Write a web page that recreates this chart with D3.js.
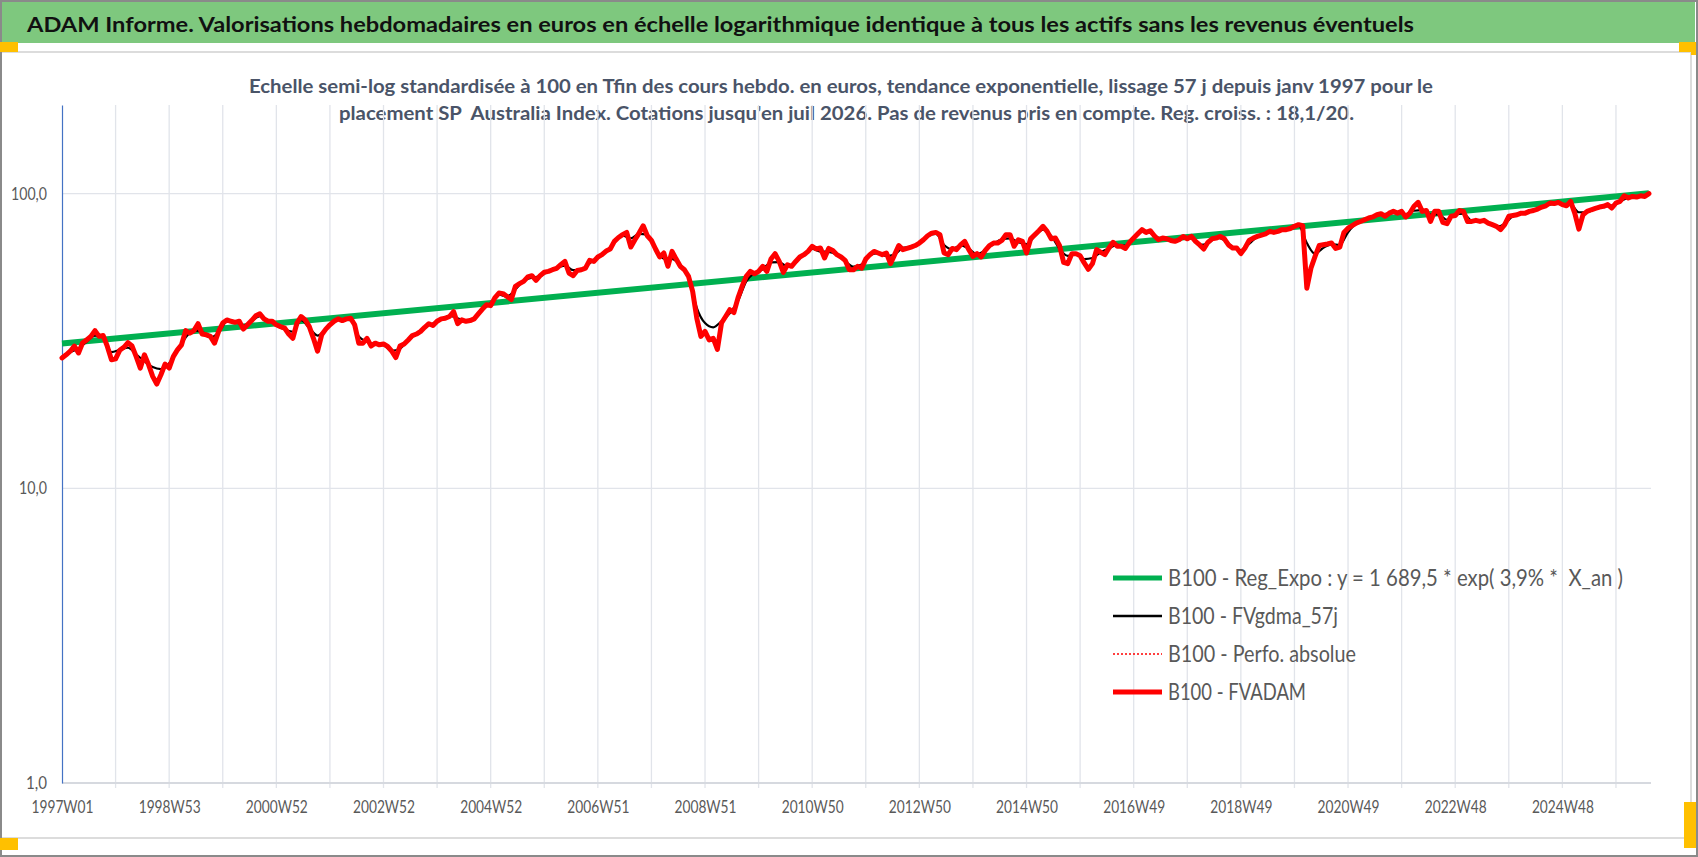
<!DOCTYPE html>
<html>
<head>
<meta charset="utf-8">
<script src="https://cdn.jsdelivr.net/npm/d3@7"></script>
<style>
  body { margin: 0; background: #fff; }
  svg { display: block; font-family: Lato, "Open Sans", sans-serif; }
</style>
</head>
<body>
<div id="chart"></div>
<script>
// ADAM chart - SP Australia Index, weekly values on a log scale (base 100 at the end)

const weekLabels = ["1997W01", "1998W53", "2000W52", "2002W52", "2004W52", "2006W51", "2008W51",
  "2010W50", "2012W50", "2014W50", "2016W49", "2018W49", "2020W49", "2022W48", "2024W48"];
const yTicks = [1, 10, 100];

// FVADAM, one value every 4 weeks from 1997W01
const fvadamStep = 4;
const fvadam = [
  27.7, 28.4, 29.2, 30.4, 28.8, 31.2, 31.9, 32.8, 34.3, 32.8,
  33.0, 30.3, 27.3, 27.5, 29.4, 30.1, 31.2, 30.4, 28.0, 25.6,
  28.4, 26.3, 24.0, 22.6, 24.3, 26.4, 25.6, 28.0, 29.5, 30.7,
  34.3, 33.6, 34.3, 36.2, 33.4, 33.2, 32.8, 31.1, 34.1, 36.4,
  37.3, 36.9, 36.6, 36.9, 34.7, 35.9, 37.1, 38.5, 39.1, 37.6,
  36.9, 36.9, 35.9, 35.4, 35.0, 33.4, 32.3, 36.4, 38.3, 37.3,
  35.4, 32.3, 29.2, 33.2, 34.7, 35.9, 36.9, 37.6, 37.1, 37.6,
  37.8, 35.9, 31.1, 31.1, 32.3, 30.4, 31.1, 30.7, 30.9, 30.3,
  29.2, 27.8, 30.4, 30.9, 31.9, 33.0, 33.4, 34.1, 35.2, 36.2,
  35.7, 36.9, 37.6, 37.8, 38.3, 39.8,
  36.2, 37.3, 36.9, 37.1, 37.6, 39.1, 40.6, 42.0, 41.7, 44.3,
  46.0, 45.8, 44.8, 43.7, 48.5, 49.5, 50.4, 52.2, 52.7, 50.8,
  52.7, 54.1, 54.5, 55.2, 55.8, 57.4, 58.9, 53.8, 52.7, 54.9,
  55.2, 55.9, 59.4, 58.9, 61.0, 62.1, 63.9, 64.9, 68.9, 71.0,
  72.6, 73.9, 65.9, 69.8, 73.5, 77.8, 72.0, 69.4, 64.9, 61.0,
  62.9, 56.7, 63.7, 60.0, 56.7, 55.2, 52.4, 46.6, 37.8, 32.8,
  34.1, 31.9, 32.3, 29.6, 36.4, 38.3, 40.4, 39.5, 44.3, 48.5,
  52.4, 54.5, 53.5, 54.5, 56.7, 54.5, 60.0, 62.6, 58.9, 54.1,
  57.4, 56.7, 58.9, 61.0, 62.1, 63.7, 66.3, 64.9, 65.4, 60.5,
  65.2, 64.2, 62.1, 61.0, 59.4, 55.2,
  55.2, 56.7, 55.9, 60.0, 62.1, 63.7, 62.9, 62.1, 62.9, 57.9,
  62.1, 66.7, 64.6, 65.2, 65.9, 66.7, 68.0, 69.8, 72.0, 73.5,
  73.9, 72.6, 62.9, 62.1, 65.2, 64.6, 67.0, 68.9, 64.6, 61.3,
  62.6, 61.0, 64.2, 66.7, 68.0, 68.0, 69.4, 72.6, 72.6, 66.3,
  69.8, 68.9, 62.9, 70.3, 72.6, 74.9, 77.5, 74.5, 70.3, 70.7,
  66.7, 58.5, 57.9, 62.6, 62.6, 61.6, 58.2, 55.4, 57.9, 64.6,
  63.2, 62.1, 65.4, 68.4, 66.3, 66.3, 65.2, 68.4, 70.7, 73.1,
  75.5, 73.9, 74.9, 72.0, 69.8, 70.7, 70.3, 69.4, 68.9, 69.8,
  71.6, 70.3, 71.6, 68.9, 67.0, 64.9, 68.4, 70.3, 70.7, 71.6,
  70.3, 67.0, 65.4, 65.4, 62.6, 65.4,
  69.4, 70.7, 71.6, 72.4, 73.1, 74.5, 73.9, 74.5, 75.5, 75.5,
  76.2, 77.5, 78.5, 77.9, 47.8, 55.9, 61.3, 66.7, 67.1, 67.5,
  68.0, 65.2, 65.9, 73.9, 76.4, 77.9, 79.5, 80.5, 81.6, 82.7,
  83.4, 84.8, 85.5, 83.8, 85.9, 87.1, 85.9, 87.1, 83.4, 85.9,
  90.6, 93.5, 87.1, 87.7, 80.5, 87.1, 87.1, 79.9, 79.1, 83.8,
  84.3, 87.7, 87.1, 80.5, 80.5, 81.2, 80.5, 81.2, 79.5, 78.5,
  77.5, 75.5, 78.5, 83.8, 84.3, 84.8, 85.9, 85.9, 87.1, 87.7,
  88.7, 90.1, 91.0, 93.0, 92.6, 93.5, 91.8, 91.0, 94.2, 85.9,
  75.8, 84.8, 87.1, 88.2, 89.2, 90.1, 90.6, 91.8, 89.4, 93.0,
  94.2, 98.4, 96.7, 97.9, 97.4, 98.4, 97.9, 100.0
];

// FVgdma_57j (smoothed), one value every 8 weeks
const smoothStep = 8;
const fvgdma = [
  28.0, 29.0, 29.8, 31.5, 33.0, 32.5, 29.0, 29.5, 30.0, 28.5,
  27.0, 25.8, 25.4, 26.6, 29.2, 32.5, 34.3, 34.0, 32.5, 33.8,
  36.8, 36.8, 35.6, 37.0, 38.4, 37.1, 35.9, 34.6, 34.0, 37.2,
  35.0, 33.0, 34.6, 36.8, 37.4, 37.2, 32.8, 31.5, 30.8, 30.6,
  29.3, 29.8, 31.8, 33.5, 35.2, 36.3, 37.5, 38.5, 37.8,
  37.1, 37.9, 40.5, 42.5, 45.4, 44.8, 47.3, 50.7, 51.9, 52.5,
  54.6, 56.1, 57.0, 55.0, 55.3, 58.0, 60.7, 63.6, 68.3, 72.0,
  70.5, 73.0, 72.5, 65.1, 60.2, 60.1, 57.3, 52.4, 41.0, 36.4,
  35.2, 36.9, 39.3, 43.2, 50.4, 53.8, 55.4, 58.5, 58.6, 56.5,
  58.8, 62.2, 65.0, 63.6, 63.5, 62.0, 59.0,
  56.5, 57.5, 61.9, 62.9, 61.5, 62.2, 65.5, 65.9, 68.1, 71.7,
  73.0, 67.0, 64.8, 66.8, 65.0, 62.3, 64.3, 67.6, 70.0, 70.5,
  68.5, 67.5, 71.7, 75.5, 71.8, 65.0, 61.5, 62.2, 60.0, 60.5,
  63.3, 65.3, 67.0, 66.6, 70.7, 74.2, 73.6, 70.8, 70.1, 69.4,
  70.6, 70.6, 67.0, 67.8, 70.9, 69.6, 66.0, 64.4,
  67.5, 71.5, 73.3, 74.3, 75.3, 76.4, 78.0, 68.0, 62.5, 65.5,
  67.3, 67.0, 74.0, 79.3, 81.6, 83.3, 85.0, 85.6, 86.4, 85.2,
  87.5, 88.0, 85.0, 85.0, 81.5, 85.0, 85.5, 81.0, 80.8, 79.6,
  77.3, 79.0, 84.0, 85.6, 86.9, 88.7, 91.0, 92.7, 92.1, 92.0,
  86.5, 86.5, 89.0, 90.5, 91.2, 94.0, 97.0, 97.6, 98.5
];

// exponential trend, read at both ends
const regWeeks = [0, 1540];
const regValues = [31.0, 100.3];

const legendNames = [
  "B100 - Reg_Expo : y = 1 689,5 * exp( 3,9% *  X_an )",
  "B100 - FVgdma_57j",
  "B100 - Perfo. absolue",
  "B100 - FVADAM"
];

const width = 1698, height = 857;
const plotLeft = 62, plotRight = 1651, plotTop = 105, plotBottom = 783;

const svg = d3.select("#chart").append("svg")
  .attr("width", width)
  .attr("height", height);

// frame, banner and the little orange handles
svg.append("rect").attr("x", 1).attr("y", 1).attr("width", width - 2).attr("height", height - 2)
  .attr("fill", "#fff").attr("stroke", "#8a8a8a").attr("stroke-width", 2);
svg.append("rect").attr("x", 2).attr("y", 2).attr("width", 1693).attr("height", 41)
  .attr("fill", "#7ec87e");
svg.append("path")
  .attr("d", "M2,52 H1691 V838 H2")
  .attr("fill", "none").attr("stroke", "#dcdcdc").attr("stroke-width", 2);
const handles = [[0, 42, 18, 10], [1679, 42, 17, 10], [1691, 42, 5, 13], [0, 838, 18, 12], [1684, 802, 12, 46]];
svg.selectAll("rect.handle").data(handles).join("rect")
  .attr("class", "handle")
  .attr("x", d => d[0]).attr("y", d => d[1]).attr("width", d => d[2]).attr("height", d => d[3])
  .attr("fill", "#ffc000");

svg.append("text")
  .attr("x", 27).attr("y", 32)
  .attr("font-size", 21).attr("font-weight", "bold").attr("fill", "#111")
  .attr("textLength", 1387).attr("lengthAdjust", "spacingAndGlyphs")
  .text("ADAM Informe. Valorisations hebdomadaires en euros en échelle logarithmique identique à tous les actifs sans les revenus éventuels");

const subtitle = [
  { text: "Echelle semi-log standardisée à 100 en Tfin des cours hebdo. en euros, tendance exponentielle, lissage 57 j depuis janv 1997 pour le", x: 249, y: 93, w: 1184 },
  { text: "placement SP  Australia Index. Cotations jusqu'en juil 2026. Pas de revenus pris en compte. Reg. croiss. : 18,1/20.", x: 339, y: 120, w: 1015 }
];
svg.append("g").selectAll("text").data(subtitle).join("text")
  .attr("x", d => d.x).attr("y", d => d.y)
  .attr("font-size", 18.5).attr("font-weight", "bold").attr("fill", "#4a5468")
  .attr("textLength", d => d.w).attr("lengthAdjust", "spacingAndGlyphs")
  .style("white-space", "pre")
  .text(d => d.text);

const x = d3.scaleLinear().domain([0, 1542]).range([plotLeft, plotRight]);
const y = d3.scaleLog().domain([1, 200]).range([plotBottom, plotTop]);

// vertical gridlines every 52 weeks, they also stick out below the axis as ticks
svg.append("g")
  .selectAll("line")
  .data(d3.range(52, 1542, 52))
  .join("line")
  .attr("x1", d => x(d)).attr("x2", d => x(d))
  .attr("y1", plotTop).attr("y2", plotBottom + 5)
  .attr("stroke", "#e1e4ea").attr("stroke-width", 1.3);

// horizontal gridlines
svg.append("g")
  .selectAll("line")
  .data(yTicks)
  .join("line")
  .attr("x1", plotLeft).attr("x2", plotRight)
  .attr("y1", d => y(d)).attr("y2", d => y(d))
  .attr("stroke", d => d === 1 ? "#d6d9df" : "#e1e4ea")
  .attr("stroke-width", d => d === 1 ? 2 : 1.3);

// y axis
const yAxis = svg.append("g")
  .attr("transform", `translate(${plotLeft},0)`)
  .call(d3.axisLeft(y).tickValues(yTicks).tickSize(0).tickPadding(15)
    .tickFormat(d => d3.format(".1f")(d).replace(".", ",")));
yAxis.select(".domain").attr("stroke", "#4472c4").attr("stroke-width", 1.2);
yAxis.selectAll("text").attr("font-size", 17).attr("fill", "#595959")
  .attr("font-family", "Lato, 'Open Sans', sans-serif")
  .attr("textLength", d => d === 100 ? 36 : d === 10 ? 28 : 21)
  .attr("lengthAdjust", "spacingAndGlyphs");

// x axis labels
const xAxis = svg.append("g")
  .attr("transform", `translate(0,${plotBottom})`)
  .call(d3.axisBottom(x).tickValues(weekLabels.map((d, i) => i * 104)).tickSize(0).tickPadding(18)
    .tickFormat((d, i) => weekLabels[i]));
xAxis.select(".domain").remove();
xAxis.selectAll("text").attr("font-size", 16.5).attr("fill", "#595959")
  .attr("font-family", "Lato, 'Open Sans', sans-serif")
  .attr("textLength", 62).attr("lengthAdjust", "spacingAndGlyphs");

// series
const lineRed = d3.line().x((d, i) => x(i * fvadamStep)).y(d => y(d));
const lineSmooth = d3.line().x((d, i) => x(i * smoothStep)).y(d => y(d)).curve(d3.curveMonotoneX);
const lineReg = d3.line().x((d, i) => x(regWeeks[i])).y(d => y(d));

svg.append("path").datum(regValues)
  .attr("d", lineReg).attr("fill", "none")
  .attr("stroke", "#00b050").attr("stroke-width", 6);

svg.append("path").datum(fvgdma)
  .attr("d", lineSmooth).attr("fill", "none")
  .attr("stroke", "#000").attr("stroke-width", 2.2).attr("stroke-linejoin", "round");

svg.append("path").datum(fvadam)
  .attr("d", lineRed).attr("fill", "none")
  .attr("stroke", "#ff0000").attr("stroke-width", 1.2).attr("stroke-dasharray", "2,2");

svg.append("path").datum(fvadam)
  .attr("d", lineRed).attr("fill", "none")
  .attr("stroke", "#ff0000").attr("stroke-width", 5)
  .attr("stroke-linejoin", "round").attr("stroke-linecap", "round");

// legend
const legendStyles = [
  { color: "#00b050", w: 5, dash: null, len: 455 },
  { color: "#000", w: 2.5, dash: null, len: 170 },
  { color: "#ff0000", w: 1.5, dash: "2,2", len: 188 },
  { color: "#ff0000", w: 5, dash: null, len: 138 }
];
const legend = svg.append("g").attr("transform", "translate(1113,578)");
const rows = legend.selectAll("g").data(legendNames).join("g")
  .attr("transform", (d, i) => `translate(0,${i * 38})`);
rows.append("line")
  .attr("x1", 0).attr("x2", 49).attr("y1", 0).attr("y2", 0)
  .attr("stroke", (d, i) => legendStyles[i].color)
  .attr("stroke-width", (d, i) => legendStyles[i].w)
  .attr("stroke-dasharray", (d, i) => legendStyles[i].dash);
rows.append("text")
  .attr("x", 55).attr("y", 8)
  .attr("font-size", 23).attr("fill", "#595959")
  .attr("textLength", (d, i) => legendStyles[i].len).attr("lengthAdjust", "spacingAndGlyphs")
  .style("white-space", "pre")
  .text(d => d);
</script>
</body>
</html>
